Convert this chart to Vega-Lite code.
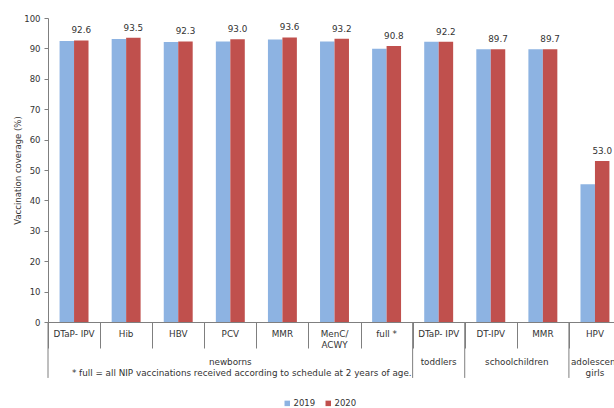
{
  "$schema": "https://vega.github.io/schema/vega-lite/v6.json",
  "width": 566,
  "height": 304,
  "autosize": {"type": "none"},
  "padding": {"left": 48, "top": 18, "right": 0, "bottom": 86},
  "config": {
    "view": {"stroke": null},
    "font": "DejaVu Sans",
    "axis": {"labelFontSize": 8.5, "titleFontSize": 8.5, "titleFontWeight": "normal", "labelColor": "#333333", "titleColor": "#333333", "labelFont": "DejaVu Sans", "titleFont": "DejaVu Sans"},
    "axisY": {"labelOverlap": false, "grid": false, "domainColor": "#7f7f7f", "tickColor": "#7f7f7f", "tickSize": 4, "labelPadding": 4, "titlePadding": 1},
    "legend": {"labelFontSize": 8.5, "labelColor": "#333333", "labelFont": "DejaVu Sans"},
    "text": {"fontSize": 8.8, "color": "#333333", "font": "DejaVu Sans"}
  },
  "datasets": {
    "bars": [
      {"id": "newborns|DTaP-IPV", "label": "DTaP- IPV", "year": "2019", "value": 92.4},
      {"id": "newborns|DTaP-IPV", "label": "DTaP- IPV", "year": "2020", "value": 92.6},
      {"id": "newborns|Hib", "label": "Hib", "year": "2019", "value": 93.1},
      {"id": "newborns|Hib", "label": "Hib", "year": "2020", "value": 93.5},
      {"id": "newborns|HBV", "label": "HBV", "year": "2019", "value": 92.1},
      {"id": "newborns|HBV", "label": "HBV", "year": "2020", "value": 92.3},
      {"id": "newborns|PCV", "label": "PCV", "year": "2019", "value": 92.3},
      {"id": "newborns|PCV", "label": "PCV", "year": "2020", "value": 93.0},
      {"id": "newborns|MMR", "label": "MMR", "year": "2019", "value": 92.9},
      {"id": "newborns|MMR", "label": "MMR", "year": "2020", "value": 93.6},
      {"id": "newborns|MenC/ACWY", "label": "MenC/\nACWY", "year": "2019", "value": 92.3},
      {"id": "newborns|MenC/ACWY", "label": "MenC/\nACWY", "year": "2020", "value": 93.2},
      {"id": "newborns|full", "label": "full *", "year": "2019", "value": 89.9},
      {"id": "newborns|full", "label": "full *", "year": "2020", "value": 90.8},
      {"id": "toddlers|DTaP-IPV", "label": "DTaP- IPV", "year": "2019", "value": 92.2},
      {"id": "toddlers|DTaP-IPV", "label": "DTaP- IPV", "year": "2020", "value": 92.2},
      {"id": "schoolchildren|DT-IPV", "label": "DT-IPV", "year": "2019", "value": 89.7},
      {"id": "schoolchildren|DT-IPV", "label": "DT-IPV", "year": "2020", "value": 89.7},
      {"id": "schoolchildren|MMR", "label": "MMR", "year": "2019", "value": 89.7},
      {"id": "schoolchildren|MMR", "label": "MMR", "year": "2020", "value": 89.7},
      {"id": "adolescent girls|HPV", "label": "HPV", "year": "2019", "value": 45.3},
      {"id": "adolescent girls|HPV", "label": "HPV", "year": "2020", "value": 53.0}
    ],
    "groups": [
      {"id": "newborns|PCV", "text": "newborns"},
      {"id": "toddlers|DTaP-IPV", "text": "toddlers"},
      {"id": "adolescent girls|HPV", "text": "adolescent\ngirls"}
    ],
    "groupsEdge": [
      {"id": "schoolchildren|MMR", "text": "schoolchildren"}
    ],
    "notes": [
      {"id": "toddlers|DTaP-IPV", "text": "* full = all NIP vaccinations received according to schedule at 2 years of age."}
    ],
    "groupStarts": [
      {"id": "newborns|DTaP-IPV"},
      {"id": "toddlers|DTaP-IPV"},
      {"id": "schoolchildren|DT-IPV"},
      {"id": "adolescent girls|HPV"}
    ]
  },
  "layer": [
    {
      "data": {"name": "bars"},
      "mark": {"type": "bar"},
      "encoding": {
        "x": {
          "field": "id", "type": "nominal",
          "scale": {
            "domain": ["newborns|DTaP-IPV", "newborns|Hib", "newborns|HBV", "newborns|PCV", "newborns|MMR", "newborns|MenC/ACWY", "newborns|full", "toddlers|DTaP-IPV", "schoolchildren|DT-IPV", "schoolchildren|MMR", "adolescent girls|HPV"],
            "range": [0, 573], "paddingInner": 0, "paddingOuter": 0
          },
          "axis": {"title": null, "labels": false, "tickBand": "extent", "tickSize": 26, "tickColor": "#7f7f7f", "domainColor": "#7f7f7f"}
        },
        "xOffset": {"field": "year", "type": "nominal", "scale": {"paddingOuter": 0.8, "paddingInner": 0}},
        "y": {
          "field": "value", "type": "quantitative",
          "scale": {"domain": [0, 100], "nice": false},
          "axis": {"title": "Vaccination coverage (%)", "values": [0, 10, 20, 30, 40, 50, 60, 70, 80, 90, 100], "tickCount": 11}
        },
        "color": {
          "field": "year", "type": "nominal",
          "scale": {"domain": ["2019", "2020"], "range": ["#8DB3E2", "#C0504D"]},
          "legend": {"title": null, "orient": "none", "legendX": 235, "legendY": 381, "direction": "horizontal", "symbolType": "square", "symbolSize": 30, "symbolStrokeWidth": 0, "columnPadding": 8, "labelOffset": 2}
        }
      }
    },
    {
      "data": {"name": "bars"},
      "transform": [{"filter": "datum.year == '2020'"}],
      "mark": {"type": "text", "baseline": "bottom", "dy": -5},
      "encoding": {
        "x": {"field": "id", "type": "nominal"},
        "xOffset": {"field": "year", "type": "nominal"},
        "y": {"field": "value", "type": "quantitative"},
        "text": {"field": "value", "type": "quantitative", "format": ".1f"}
      }
    },
    {
      "data": {"name": "bars"},
      "transform": [{"filter": "datum.year == '2019'"}],
      "mark": {"type": "text", "baseline": "top", "lineBreak": "\n"},
      "encoding": {
        "x": {"field": "id", "type": "nominal"},
        "y": {"datum": -2.6},
        "text": {"field": "label"}
      }
    },
    {
      "data": {"name": "groups"},
      "mark": {"type": "text", "baseline": "top", "lineBreak": "\n"},
      "encoding": {
        "x": {"field": "id", "type": "nominal"},
        "y": {"datum": -11.8},
        "text": {"field": "text"}
      }
    },
    {
      "data": {"name": "groupsEdge"},
      "mark": {"type": "text", "baseline": "top"},
      "encoding": {
        "x": {"field": "id", "type": "nominal", "bandPosition": 0},
        "y": {"datum": -11.8},
        "text": {"field": "text"}
      }
    },
    {
      "data": {"name": "notes"},
      "mark": {"type": "text", "baseline": "top", "align": "right", "dx": -1},
      "encoding": {
        "x": {"field": "id", "type": "nominal", "bandPosition": 0},
        "y": {"datum": -15.5},
        "text": {"field": "text"}
      }
    },
    {
      "data": {"name": "groupStarts"},
      "mark": {"type": "rule", "color": "#7f7f7f"},
      "encoding": {
        "x": {"field": "id", "type": "nominal", "bandPosition": 0},
        "y": {"datum": 0},
        "y2": {"datum": -18.4}
      }
    }
  ]
}
